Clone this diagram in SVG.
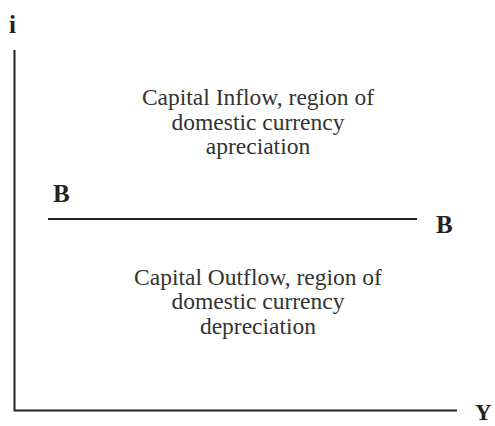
<svg xmlns="http://www.w3.org/2000/svg" width="495" height="426" viewBox="0 0 495 426">
<style>
.ax{stroke:#222;stroke-width:2;fill:none}
.lbl{font-family:"Liberation Serif",serif;font-weight:bold;font-size:25px;fill:#222}
.t{font-family:"Liberation Serif",serif;font-size:23.5px;fill:#333;text-anchor:middle}
</style>
<rect width="495" height="426" fill="#fff"/>
<g id="connectors">
<path class="ax" d="M14.5,50 V410.5 H457"/>
<line class="ax" x1="48" y1="219" x2="417" y2="219"/>
</g>
<g id="axis-i"><text class="lbl" x="9" y="33">i</text></g>
<g id="axis-Y"><text class="lbl" x="475" y="420" style="font-size:23px">Y</text></g>
<g id="B-left"><text class="lbl" x="53" y="202">B</text></g>
<g id="B-right"><text class="lbl" x="436" y="233">B</text></g>
<g id="inflow">
<text class="t" x="258" y="105">Capital Inflow, region of</text>
<text class="t" x="258" y="130">domestic currency</text>
<text class="t" x="258" y="154">apreciation</text>
</g>
<g id="outflow">
<text class="t" x="258" y="285">Capital Outflow, region of</text>
<text class="t" x="258" y="309">domestic currency</text>
<text class="t" x="258" y="334">depreciation</text>
</g>
</svg>
